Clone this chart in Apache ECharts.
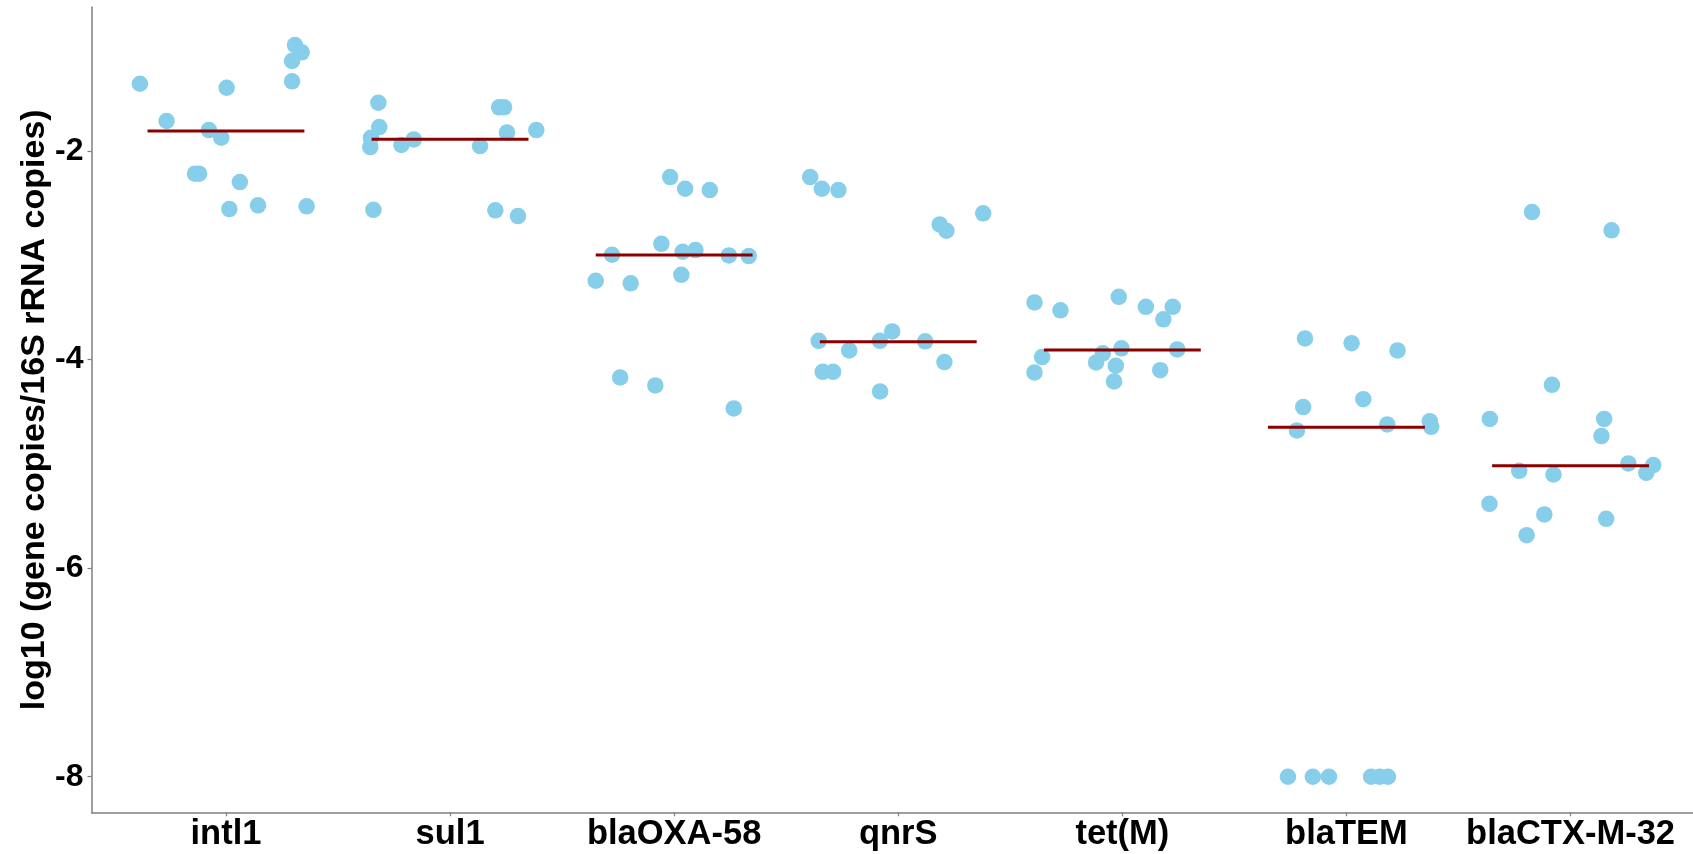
<!DOCTYPE html>
<html>
<head>
<meta charset="utf-8">
<script src="https://cdn.jsdelivr.net/npm/echarts@6/dist/echarts.min.js"></script>
<style>
  html, body { margin: 0; padding: 0; background: #ffffff; overflow: hidden; }
  #chart { width: 1705px; height: 854px; }
</style>
</head>
<body>
<div id="chart"></div>
<script>
const categories = ['intl1', 'sul1', 'blaOXA-58', 'qnrS', 'tet(M)', 'blaTEM', 'blaCTX-M-32'];
const yTicks = [-8, -6, -4, -2];
const yTitle = 'log10 (gene copies/16S rRNA copies)';
const medians = [-1.81, -1.89, -3.00, -3.83, -3.91, -4.65, -5.02];

// measured values (log10) per gene
const intl1Values = [-1.358, -1.715, -1.802, -1.875, -1.396, -2.22, -2.22, -2.30, -2.559, -2.523, -0.987, -1.057, -1.140, -1.335, -2.533];
const sul1Values = [-1.540, -1.773, -1.875, -1.965, -1.945, -1.891, -1.955, -1.584, -1.584, -1.824, -1.802, -2.566, -2.571, -2.626];
const blaOXA58Values = [-2.252, -2.364, -2.377, -2.892, -2.997, -2.968, -2.952, -3.003, -3.010, -3.246, -3.271, -3.189, -4.173, -4.249, -4.470];
const qnrSValues = [-2.252, -2.364, -2.377, -2.706, -2.767, -2.600, -3.822, -3.822, -3.732, -3.827, -3.914, -4.119, -4.119, -4.026, -4.307];
const tetMValues = [-3.454, -3.530, -3.400, -3.496, -3.496, -3.616, -3.978, -4.125, -3.942, -4.029, -3.894, -4.061, -4.211, -3.904, -4.103];
const blaTEMValues = [-3.799, -3.844, -3.914, -4.457, -4.381, -4.681, -4.623, -4.592, -4.646, -8, -8, -8, -8, -8, -8];
const blaCTXValues = [-2.588, -2.763, -4.244, -4.570, -4.570, -4.735, -5.068, -5.103, -4.997, -5.013, -5.087, -5.384, -5.486, -5.528, -5.685];

// horizontal jitter (in category units)
const intl1Jitter = [-0.384, -0.265, -0.076, -0.021, 0.003, -0.138, -0.12, 0.062, 0.015, 0.143, 0.308, 0.338, 0.295, 0.295, 0.36];
const sul1Jitter = [-0.32, -0.316, -0.353, -0.356, -0.217, -0.162, 0.134, 0.219, 0.241, 0.254, 0.385, -0.342, 0.202, 0.303];
const blaOXA58Jitter = [-0.018, 0.049, 0.159, -0.057, -0.277, 0.038, 0.095, 0.244, 0.333, -0.35, -0.194, 0.032, -0.241, -0.084, 0.266];
const qnrSJitter = [-0.393, -0.341, -0.267, 0.185, 0.215, 0.379, -0.355, -0.082, -0.027, 0.12, -0.219, -0.337, -0.291, 0.206, -0.081];
const tetMJitter = [-0.392, -0.276, -0.016, 0.105, 0.225, 0.183, -0.358, -0.392, -0.087, -0.117, -0.004, -0.029, -0.037, 0.245, 0.169];
const blaTEMJitter = [-0.185, 0.023, 0.228, -0.193, 0.075, -0.221, 0.182, 0.372, 0.378, -0.261, -0.15, -0.078, 0.11, 0.148, 0.185];
const blaCTXJitter = [-0.172, 0.183, -0.083, -0.36, 0.15, 0.138, -0.229, -0.076, 0.258, 0.369, 0.338, -0.362, -0.117, 0.159, -0.196];

const allValues = [intl1Values, sul1Values, blaOXA58Values, qnrSValues, tetMValues, blaTEMValues, blaCTXValues];
const allJitter = [intl1Jitter, sul1Jitter, blaOXA58Jitter, qnrSJitter, tetMJitter, blaTEMJitter, blaCTXJitter];

const points = [];
allValues.forEach(function (vals, ci) {
  vals.forEach(function (v, k) {
    points.push([ci + 1 + allJitter[ci][k], v]);
  });
});
const medianData = medians.map(function (m, ci) { return [ci + 1, m]; });
const catPositions = categories.map(function (c, i) { return i + 1; });

const FONT = 'Liberation Sans, Arial, sans-serif';
const chart = echarts.init(document.getElementById('chart'));
chart.setOption({
  animation: false,
  backgroundColor: '#ffffff',
  grid: { left: 91.5, right: 0, top: 7.3, bottom: 41.7, containLabel: false },
  xAxis: {
    type: 'value',
    min: 0.4,
    max: 7.6,
    splitLine: { show: false },
    axisLine: { show: true, lineStyle: { color: '#7f7f7f', width: 1.5 } },
    axisTick: { show: true, length: 4, customValues: catPositions, lineStyle: { color: '#7f7f7f', width: 1.2 } },
    axisLabel: {
      customValues: catPositions,
      margin: 5,
      color: '#000000',
      fontSize: 34.5,
      fontWeight: 'bold',
      fontFamily: FONT,
      formatter: function (v) { return categories[Math.round(v) - 1] || ''; }
    }
  },
  yAxis: {
    type: 'value',
    min: -8.341,
    max: -0.625,
    name: yTitle,
    nameLocation: 'middle',
    nameRotate: 90,
    nameGap: 40,
    nameMoveOverlap: false,
    nameTextStyle: { color: '#000000', fontSize: 34, fontWeight: 'bold', fontFamily: FONT },
    splitLine: { show: false },
    axisLine: { show: true, lineStyle: { color: '#7f7f7f', width: 1.5 } },
    axisTick: { show: true, length: 4, customValues: yTicks, lineStyle: { color: '#7f7f7f', width: 1.2 } },
    axisLabel: {
      customValues: yTicks,
      margin: 8,
      color: '#000000',
      fontSize: 32,
      fontWeight: 'bold',
      fontFamily: FONT
    }
  },
  series: [
    {
      type: 'scatter',
      data: points,
      symbol: 'circle',
      symbolSize: 16.5,
      itemStyle: { color: '#87CEEB', opacity: 1 },
      z: 2,
      silent: true
    },
    {
      type: 'custom',
      data: medianData,
      z: 3,
      silent: true,
      renderItem: function (params, api) {
        const c = api.value(0);
        const m = api.value(1);
        const p1 = api.coord([c - 0.35, m]);
        const p2 = api.coord([c + 0.35, m]);
        return {
          type: 'line',
          shape: { x1: p1[0], y1: p1[1], x2: p2[0], y2: p2[1] },
          style: { stroke: '#8B0000', lineWidth: 3 }
        };
      }
    }
  ]
});
</script>
</body>
</html>
